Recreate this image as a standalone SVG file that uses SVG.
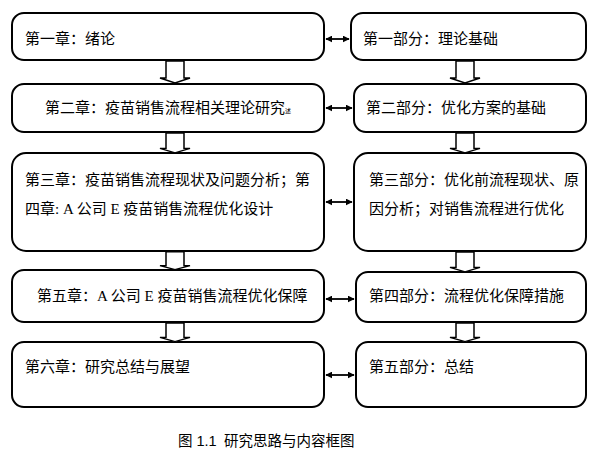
<svg xmlns="http://www.w3.org/2000/svg" width="606" height="458" viewBox="0 0 606 458">
<defs>
<style>
.box{fill:#fff;stroke:#000;stroke-width:2}
.t{font-family:"Liberation Serif","Noto Sans CJK SC",serif;font-size:15px;fill:#000}
.blk{fill:#fff;stroke:#000;stroke-width:1.5;stroke-linejoin:miter}
.con{stroke:#000;stroke-width:1.8;fill:none}
.cap{font-family:"Liberation Sans","Noto Sans CJK SC",sans-serif;font-size:14.5px;fill:#000}
</style>
<marker id="ah" viewBox="0 0 10 10" refX="9" refY="5" markerWidth="7" markerHeight="7" orient="auto-start-reverse" markerUnits="userSpaceOnUse">
<path d="M0,0 L10,5 L0,10 z" fill="#000"/>
</marker>
<path id="blockarrow" d="M-9,0 L9,0 L9,17 L15,17 L0,22 L-15,17 L-9,17 z"/>
</defs>
<rect width="606" height="458" fill="#fff"/>

<g id="L1"><rect class="box" x="12" y="13" width="312" height="47" rx="12"/><text class="t" x="25" y="44">第一章：绪论</text></g>
<g id="L2"><rect class="box" x="12" y="84" width="312" height="48" rx="12"/><text class="t" x="45" y="113">第二章：疫苗销售流程相关理论研究<tspan font-size="6">述</tspan></text></g>
<g id="L3"><rect class="box" x="12" y="153" width="312" height="98" rx="14"/><text class="t" x="25" y="185">第三章：疫苗销售流程现状及问题分析；第</text><text class="t" x="25" y="214">四章: A 公司 E 疫苗销售流程优化设计</text></g>
<g id="L4"><rect class="box" x="12" y="270" width="312" height="52" rx="12"/><text class="t" x="37" y="301">第五章：A 公司 E 疫苗销售流程优化保障</text></g>
<g id="L5"><rect class="box" x="12" y="342" width="312" height="65" rx="12"/><text class="t" x="25" y="372">第六章：研究总结与展望</text></g>

<g id="R1"><rect class="box" x="351" y="13" width="235" height="47" rx="12"/><text class="t" x="363" y="44">第一部分：理论基础</text></g>
<g id="R2"><rect class="box" x="354" y="84" width="232" height="48" rx="12"/><text class="t" x="366" y="113">第二部分：优化方案的基础</text></g>
<g id="R3"><rect class="box" x="354" y="153" width="232" height="98" rx="14"/><text class="t" x="369" y="185">第三部分：优化前流程现状、原</text><text class="t" x="369" y="214">因分析；对销售流程进行优化</text></g>
<g id="R4"><rect class="box" x="356" y="272" width="230" height="50" rx="12"/><text class="t" x="369" y="301">第四部分：流程优化保障措施</text></g>
<g id="R5"><rect class="box" x="356" y="342" width="230" height="65" rx="12"/><text class="t" x="369" y="372">第五部分：总结</text></g>

<g id="connectors">
<use href="#blockarrow" class="blk" transform="translate(175,61)"/>
<use href="#blockarrow" class="blk" transform="translate(175,133) scale(1,0.9)"/>
<use href="#blockarrow" class="blk" transform="translate(175,252) scale(1,0.8)"/>
<use href="#blockarrow" class="blk" transform="translate(175,323) scale(1,0.85)"/>
<use href="#blockarrow" class="blk" transform="translate(465,61)"/>
<use href="#blockarrow" class="blk" transform="translate(465,133) scale(1,0.9)"/>
<use href="#blockarrow" class="blk" transform="translate(465,252) scale(1,0.9)"/>
<use href="#blockarrow" class="blk" transform="translate(465,323) scale(1,0.85)"/>
<line class="con" x1="326" y1="39" x2="349" y2="39" marker-start="url(#ah)" marker-end="url(#ah)"/>
<line class="con" x1="326" y1="108" x2="352" y2="108" marker-start="url(#ah)" marker-end="url(#ah)"/>
<line class="con" x1="326" y1="202" x2="352" y2="202" marker-start="url(#ah)" marker-end="url(#ah)"/>
<line class="con" x1="326" y1="299" x2="354" y2="299" marker-start="url(#ah)" marker-end="url(#ah)"/>
<line class="con" x1="326" y1="375" x2="354" y2="375" marker-start="url(#ah)" marker-end="url(#ah)"/>
</g>
<text class="cap" x="178" y="446">图 1.1 <tspan x="224">研究思路与内容框图</tspan></text>
</svg>
